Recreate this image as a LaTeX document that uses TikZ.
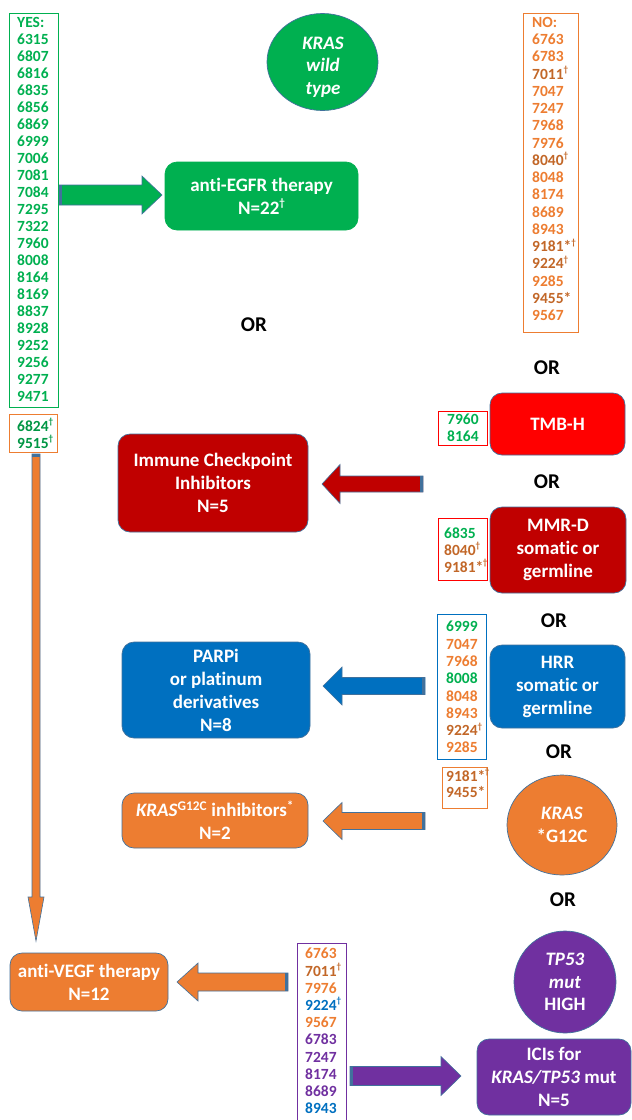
\documentclass[tikz,border=0pt]{standalone}
\usepackage{fontspec}
\setmainfont{Carlito}[Ligatures=NoCommon]
\usetikzlibrary{calc,shapes.geometric}
\definecolor{cgreen}{HTML}{00B050}
\definecolor{corange}{HTML}{ED7D31}
\definecolor{cred}{HTML}{FF0000}
\definecolor{cdred}{HTML}{C00000}
\definecolor{cblue}{HTML}{0070C0}
\definecolor{cpurple}{HTML}{7030A0}
\definecolor{cedge}{HTML}{41719C}
\newcommand\dg{\smash{\raisebox{0.42em}{\fontsize{9pt}{9pt}\selectfont †}}}
\newcommand\dgb{\smash{\raisebox{0.42em}{\fontsize{11pt}{11pt}\selectfont †}}}
\newcommand\txg[1]{\textcolor{cgreen}{#1}}
\newcommand\txo[1]{\textcolor{corange}{#1}}
\newcommand\txod[1]{\textcolor{corange!82!black}{#1}}
\newcommand\txb[1]{\textcolor{cblue}{#1}}
\newcommand\txp[1]{\textcolor{cpurple}{#1}}
\newcommand\blockarrow[6]{%
  \coordinate (hb) at ($(#2)!#6!(#1)$);
  \coordinate (sb) at ($(#1)!3pt!(#2)$);
  \filldraw[fill=#3, draw=cedge, line width=0.6pt, line join=miter]
    ($(#1)!#4!90:(#2)$) -- ($(hb)!#4!90:(#2)$) -- ($(hb)!#5!90:(#2)$) -- (#2)
    -- ($(hb)!#5!-90:(#2)$) -- ($(hb)!#4!-90:(#2)$) -- ($(#1)!#4!-90:(#2)$) -- cycle;
  \fill[cedge] ($(#1)!#4!90:(#2)$) -- ($(sb)!#4!90:(#2)$) -- ($(sb)!#4!-90:(#2)$) -- ($(#1)!#4!-90:(#2)$) -- cycle;
}
\tikzset{
  mainbox/.style={rectangle, rounded corners=12pt, draw=cedge, line width=0.7pt, text=white,
    font=\bfseries\fontsize{19pt}{23pt}\selectfont, align=center, inner sep=0pt},
  circ/.style={ellipse, draw=cedge, line width=0.7pt, text=white,
    font=\bfseries\fontsize{19pt}{22.5pt}\selectfont, align=center, inner sep=0pt},
  orlbl/.style={font=\bfseries\fontsize{21pt}{25pt}\selectfont, inner sep=0pt},
  lbox/.style={rectangle, draw=#1, line width=0.9pt, inner sep=0pt, anchor=north west},
  ltxt/.style={font=\bfseries\fontsize{15.5pt}{#1}\selectfont, align=left, inner sep=0pt, anchor=north west},
}
\begin{document}
\begin{tikzpicture}[x=1pt,y=-1pt]
\useasboundingbox (0,0) rectangle (632,1120);
\fill[white] (0,0) rectangle (632,1120);

% ---- arrows ----
\coordinate (gA) at (59,195); \coordinate (gB) at (162,195);
\blockarrow{gA}{gB}{cgreen}{10pt}{19pt}{20pt}
\coordinate (vA) at (36,454); \coordinate (vB) at (36,941);
\blockarrow{vA}{vB}{corange}{4pt}{8pt}{44pt}
\coordinate (rA) at (423,484); \coordinate (rB) at (322,484);
\blockarrow{rA}{rB}{cdred}{8pt}{19.5pt}{18pt}
\coordinate (bA) at (425,686); \coordinate (bB) at (323,686);
\blockarrow{bA}{bB}{cblue}{8.5pt}{19pt}{19pt}
\coordinate (oA) at (425,821); \coordinate (oB) at (323,821);
\blockarrow{oA}{oB}{corange}{8.5pt}{18.5pt}{19pt}
\coordinate (o2A) at (288,982); \coordinate (o2B) at (177,982);
\blockarrow{o2A}{o2B}{corange}{9pt}{19pt}{21pt}
\coordinate (pA) at (350,1076); \coordinate (pB) at (461,1076);
\blockarrow{pA}{pB}{cpurple}{9.5pt}{19.5pt}{20pt}

% ---- list boxes ----
\node[lbox=cgreen, minimum width=49pt, minimum height=394pt] (yes) at (9,13) {};
\node[ltxt=17pt, text=cgreen] (yest) at ($(yes.north west)+(8,4.1)$)
 {YES:\\6315\\6807\\6816\\6835\\6856\\6869\\6999\\7006\\7081\\7084\\7295\\7322\\7960\\8008\\8164\\8169\\8837\\8928\\9252\\9256\\9277\\9471};
\node[lbox=corange, minimum width=48pt, minimum height=38pt] (yes2) at (9,414) {};
\node[ltxt=17pt, text=cgreen!85!black] (yes2t) at ($(yes2.north west)+(8,6.1)$) {6824\dg\\9515\dg};

\node[lbox=corange, minimum width=55pt, minimum height=319pt] (no) at (523,13) {};
\node[ltxt=17.25pt, text=corange] (not) at ($(no.north west)+(9,4.1)$)
 {NO:\\6763\\6783\\\txod{7011\dg}\\7047\\7247\\7968\\7976\\\txod{8040\dg}\\8048\\8174\\8689\\8943\\\txod{9181*\dg}\\\txod{9224\dg}\\9285\\\txod{9455*}\\9567};

\node[lbox=cred, minimum width=49pt, minimum height=34pt] (tmbl) at (438,411) {};
\node[ltxt=17pt, text=cgreen] (tmblt) at ($(tmbl.north west)+(9,3.1)$) {7960\\8164};

\node[lbox=cred, minimum width=49pt, minimum height=62pt] (mmrl) at (438,518) {};
\node[ltxt=17pt] (mmrlt) at ($(mmrl.north west)+(6,9.1)$) {\txg{6835}\\\txod{8040\dg}\\\txod{9181*\kern-0.5pt\dg}};

\node[lbox=cblue, minimum width=49pt, minimum height=145pt] (hrrl) at (437,614) {};
\node[ltxt=17.3pt, text=corange] (hrrlt) at ($(hrrl.north west)+(9,7.1)$)
 {\txg{6999}\\7047\\7968\\\txg{8008}\\8048\\8943\\\txod{9224\dg}\\9285};

\node[lbox=corange, minimum width=45pt, minimum height=41pt] (krasl) at (442,767) {};
\node[ltxt=16pt, text=corange!82!black] (kraslt) at ($(krasl.north west)+(4,3.1)$) {9181*\kern-0.5pt\dg\\9455*};

\node[lbox=cpurple, minimum width=49pt, minimum height=185pt] (purl) at (297,943) {};
\node[ltxt=17.2pt, text=corange] (purlt) at ($(purl.north west)+(8,5.1)$)
 {6763\\\txod{7011\dg}\\7976\\\txb{9224\dg}\\9567\\\txp{6783}\\\txp{7247}\\\txp{8174}\\\txp{8689}\\\txb{8943}};

% ---- main boxes ----
\node[circ, fill=cgreen, minimum width=111pt, minimum height=97pt] (kwt) at (322.5,62) {};
\node[font=\bfseries\itshape\fontsize{19pt}{22.5pt}\selectfont, text=white, align=center, inner sep=0pt] (kwtt) at (323,67) {KRAS\\wild\\type};

\node[mainbox, fill=cgreen, draw=cgreen, minimum width=193pt, minimum height=68pt] (egfr) at (261.5,196)
 {anti-EGFR therapy\\N=22\dgb};

\node[mainbox, fill=cdred, minimum width=190pt, minimum height=98pt] (ici) at (213,483)
 {Immune Checkpoint\\Inhibitors\\N=5};
\node[mainbox, fill=cred, minimum width=135pt, minimum height=62pt] (tmb) at (557.5,424) {TMB-H};
\node[mainbox, fill=cdred, minimum width=136pt, minimum height=86pt] (mmr) at (558,550)
 {MMR-D\\somatic or\\germline};
\node[mainbox, fill=cblue, minimum width=188pt, minimum height=96pt] (parp) at (216,690)
 {PARPi\\or platinum\\derivatives\\N=8};
\node[mainbox, fill=cblue, minimum width=135pt, minimum height=83pt] (hrr) at (557.5,686.5)
 {HRR\\somatic or\\germline};
\node[mainbox, fill=corange, minimum width=186pt, minimum height=55pt] (kinh) at (215,820.5)
 {\textit{KRAS}\textsuperscript{G12C} inhibitors\textsuperscript{*}\\N=2};
\node[circ, fill=corange, minimum width=110pt, minimum height=100pt] (g12c) at (562,825)
 {\textit{KRAS}\\*G12C};
\node[mainbox, fill=corange, minimum width=158pt, minimum height=58pt] (vegf) at (89,982)
 {anti-VEGF therapy\\N=12};
\node[circ, fill=cpurple, minimum width=102pt, minimum height=102pt] (tp53) at (565,982)
 {\textit{TP53}\\\textit{mut}\\HIGH};
\node[mainbox, fill=cpurple, minimum width=154pt, minimum height=76pt] (icis) at (554,1077)
 {ICIs for\\\textit{KRAS/TP53} mut\\N=5};

% ---- OR labels ----
\node[orlbl] (or1) at (254,325) {OR};
\node[orlbl] (or2) at (547,368) {OR};
\node[orlbl] (or3) at (547,482) {OR};
\node[orlbl] (or4) at (554,621) {OR};
\node[orlbl] (or5) at (559,752) {OR};
\node[orlbl] (or6) at (563,900) {OR};
\end{tikzpicture}
\end{document}
